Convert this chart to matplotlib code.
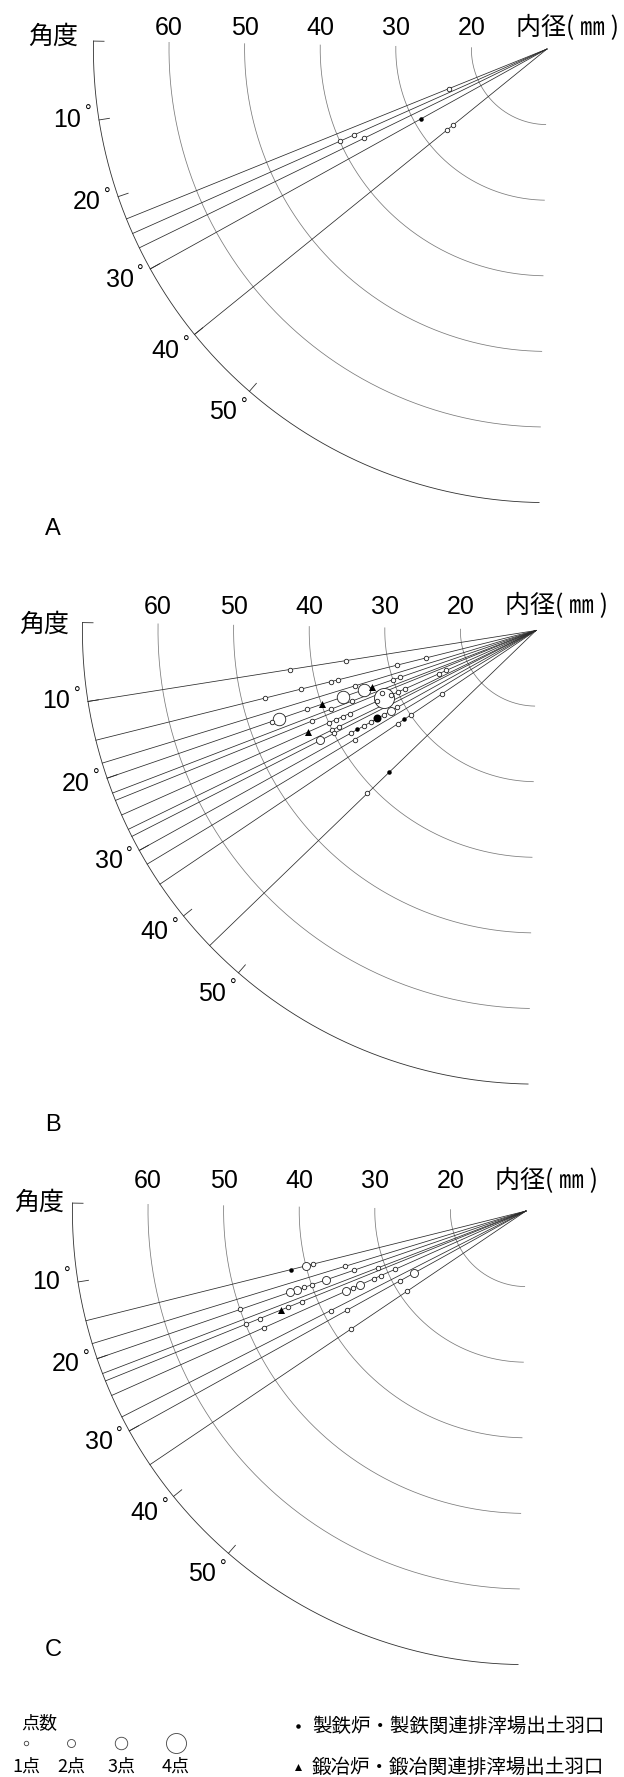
import numpy as np
import matplotlib
matplotlib.use("Agg")
import matplotlib.pyplot as plt

W, H, DPI = 624, 1777, 100
PX = 7.56        # pixels per mm of radius
R0 = 10          # inner diameter that sits at the apex
R_OUT = 70       # the angle scale arc, in the same diameter units
SHIFT = 1.0      # the 0 deg mark of the scale is drawn 1 deg above horizontal

NUM_FONT = 'Liberation Sans'
CJK = ['Noto Sans CJK JP', 'DejaVu Sans']

rings = [20, 30, 40, 50, 60]
angle_ticks = [0, 10, 20, 30, 40, 50]
angle_labels = [10, 20, 30, 40, 50]

# kind: o = open circle (size by count), f = 製鉄 (filled), t = 鍛冶 (triangle)
# ---- A
a_lines = [23, 25, 27, 30, 40]
a_ang = [23, 25, 25, 27, 30, 40, 40]
a_dia = [24, 40, 38, 37, 29, 26, 27]
a_kind = ['o', 'o', 'o', 'o', 'f', 'o', 'o']
a_cnt = [1, 1, 1, 1, 1, 1, 1]

# ---- B
b_lines = [10, 15, 18, 20, 22, 23, 25, 27, 28, 30, 32, 35, 45]
b_ang = [10, 10, 15, 15, 15, 15, 15, 15, 18, 20, 20, 20, 20, 20, 25, 25,
         20, 20, 22, 22, 23, 25, 25, 25, 25, 35, 20, 20, 23, 25, 25, 25,
         25, 25, 30, 30, 30, 30, 35, 35, 35, 25, 28, 27, 28, 27, 30, 30,
         30, 30, 32, 45, 45]
b_dia = [43, 35.5, 25, 29, 47, 42, 38, 37, 35, 37, 34, 33, 30, 29, 24, 23,
         40, 42, 39, 36, 32, 32, 31, 30, 29, 25, 46, 47, 42, 40, 39, 38,
         37, 33, 32, 31, 34, 33, 31, 30, 32, 43, 42, 40, 40, 39, 38, 37,
         36, 35, 38, 37, 41]
b_kind = ['o', 'o', 'o', 'o', 'o', 'o', 'o', 'o', 'o', 'o', 'o', 't', 'o', 'o', 'o', 'o',
          't', 'o', 'o', 'o', 'o', 'o', 'o', 'o', 'o', 'o', 'o', 'o', 'o', 'o', 'o', 'o',
          'o', 'o', 'o', 'o', 'f', 'o', 'f', 'o', 'o', 't', 'o', 'o', 'o', 'o', 'o', 'f',
          'o', 'o', 'o', 'f', 'o']
b_cnt = [1, 1, 1, 1, 1, 1, 1, 1, 1, 3, 3, 1, 1, 1, 1, 1,
         1, 1, 1, 1, 1, 4, 1, 1, 1, 1, 3, 1, 1, 1, 1, 1,
         1, 1, 2, 1, 2, 1, 1, 1, 1, 1, 2, 1, 1, 1, 1, 1,
         1, 1, 1, 1, 1]

# ---- C
c_lines = [15, 18, 20, 22, 23, 25, 28, 30, 35]
c_ang = [15, 15, 15, 18, 20, 22, 25, 25, 25, 30, 30, 35, 20, 20, 20, 20,
         20, 23, 23, 23, 25, 25, 25, 28, 30, 35, 20, 23, 23, 25]
c_dia = [42, 40, 39, 35, 34, 31, 29, 31, 32, 27, 29, 29, 38, 40, 41, 42,
         43, 42, 44, 45, 36, 35, 34, 39, 37, 38, 50, 48, 50, 48]
c_kind = ['f', 'o', 'o', 'o', 'o', 'o', 'o', 'o', 'o', 'o', 'o', 'o', 'o', 'o', 'o', 'o',
          'o', 'o', 'o', 't', 'o', 'o', 'o', 'o', 'o', 'o', 'o', 'o', 'o', 'o']
c_cnt = [1, 2, 1, 1, 1, 1, 1, 1, 1, 2, 1, 1, 2, 1, 1, 2,
         2, 1, 1, 1, 2, 1, 2, 1, 1, 1, 1, 1, 1, 1]

legend_counts = [1, 2, 3, 4]
legend_labels = ['1点', '2点', '3点', '4点']
type_labels = ['製鉄炉・製鉄関連排滓場出土羽口', '鍛冶炉・鍛冶関連排滓場出土羽口']

# marker diameters in pixels
open_px = {1: 4.5, 2: 8, 3: 12.5, 4: 20}
fill_px = {1: 4.5, 2: 8}
tri_px = 7


def msize(px):
    return (px * 72 / DPI) ** 2


def to_xy(ang, dia):
    t = np.radians(np.asarray(ang, float) - SHIFT)
    r = np.asarray(dia, float) - R0
    return -r * np.cos(t), -r * np.sin(t)


def make_axes(fig, apex, top, bottom):
    ax_, ay_ = apex
    ax = fig.add_axes([0, 1 - bottom / H, 1, (bottom - top) / H])
    ax.set_xlim(-ax_ / PX, (W - ax_) / PX)
    ax.set_ylim((ay_ - bottom) / PX, (ay_ - top) / PX)
    ax.axis('off')
    return ax


def draw_panel(ax, lines, ang, dia, kind, cnt, num_dy, kakudo):
    t = np.linspace(0, 90, 300)
    for d in rings:
        x, y = to_xy(t, np.full_like(t, d))
        ax.plot(x, y, color='#7a7a7a', lw=0.55, zorder=1)
    x, y = to_xy(t, np.full_like(t, R_OUT))
    ax.plot(x, y, color='#303030', lw=0.6, zorder=1)
    for a in angle_ticks:
        x, y = to_xy([a, a], [R_OUT, R_OUT - 1.4])
        ax.plot(x, y, color='#303030', lw=0.6, zorder=1)
    for a in lines:
        x, y = to_xy([a, a], [R0, R_OUT])
        ax.plot(x, y, color='#2a2a2a', lw=0.55, zorder=2)

    # markers, biggest first so the small ones stay visible
    ang, dia, kind, cnt = map(np.asarray, (ang, dia, kind, cnt))
    order = np.argsort(-cnt, kind='stable')
    for i in order:
        x, y = to_xy(ang[i], dia[i])
        if kind[i] == 'o':
            ax.scatter(x, y, s=msize(open_px[cnt[i]]), facecolor='white',
                       edgecolor='#202020', lw=0.6, zorder=3)
        elif kind[i] == 'f':
            ax.scatter(x, y, s=msize(fill_px[cnt[i]]), color='black', lw=0, zorder=4)
        else:
            ax.scatter(x, y, s=msize(tri_px), marker='^', color='black', lw=0, zorder=4)

    # diameter labels
    for d in rings:
        ax.text(-(d - R0), num_dy / PX, str(d), ha='center', va='center',
                fontsize=18, family=NUM_FONT)
    ax.text(-31 / PX, num_dy / PX, '内径( ㎜ )', ha='left', va='center',
            fontsize=18, family=CJK)
    ax.text(kakudo[0] / PX, -kakudo[1] / PX, '角度', ha='center', va='center',
            fontsize=18, family=CJK)

    # angle labels
    for a in angle_labels:
        tt = np.radians(a - SHIFT - 0.9)
        r = 64.1
        x, y = -r * np.cos(tt), -r * np.sin(tt) - 2.5 / PX
        ax.text(x, y, str(a), ha='center', va='center', fontsize=18, family=NUM_FONT)
        ax.annotate('°', (x, y), xytext=(15, 5), textcoords='offset points',
                    ha='center', va='center', fontsize=12, family=NUM_FONT)


fig = plt.figure(figsize=(W / DPI, H / DPI), dpi=DPI)

panels = [
    ('A', (547, 49), (0, 560), 21, (-494, -12), 529,
     a_lines, a_ang, a_dia, a_kind, a_cnt),
    ('B', (536, 630.5), (560, 1145), 24, (-492, -6), 1125,
     b_lines, b_ang, b_dia, b_kind, b_cnt),
    ('C', (526, 1211), (1145, 1700), 30, (-487, -8), 1650,
     c_lines, c_ang, c_dia, c_kind, c_cnt),
]

for name, apex, box, num_dy, kakudo, tag_y, lines, ang, dia, kind, cnt in panels:
    ax = make_axes(fig, apex, box[0], box[1])
    draw_panel(ax, lines, ang, dia, kind, cnt, num_dy, kakudo)
    fig.text(53 / W, 1 - tag_y / H, name, ha='center', va='center',
             fontsize=17, family=NUM_FONT)

# legend, laid out in pixel coordinates
lg = fig.add_axes([0, 0, 1, 1])
lg.set_xlim(0, W)
lg.set_ylim(H, 0)
lg.axis('off')
lg.text(39, 1723, '点数', ha='center', va='center', fontsize=13, family=CJK)
for xpos, c, lab in zip([26, 71, 121, 176], legend_counts, legend_labels):
    lg.scatter(xpos, 1743, s=msize(open_px[c]), facecolor='white',
               edgecolor='#404040', lw=0.6)
    lg.text(xpos, 1767, lab, ha='center', va='center', fontsize=13, family=CJK)
lg.scatter(298, 1726, s=msize(4.5), color='black', lw=0)
lg.scatter(298, 1767, s=msize(tri_px), marker='^', color='black', lw=0)
for ypos, lab in zip([1726, 1767], type_labels):
    lg.text(312, ypos, lab, ha='left', va='center', fontsize=14, family=CJK)

fig.savefig('out.png', dpi=DPI)
